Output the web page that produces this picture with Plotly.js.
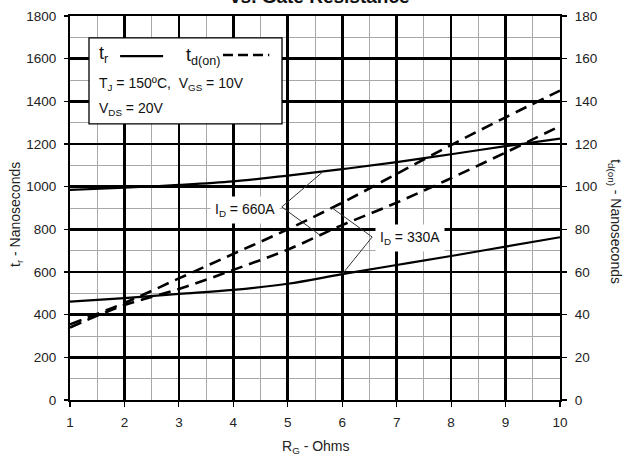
<!DOCTYPE html>
<html>
<head>
<meta charset="utf-8">
<script src="https://cdn.plot.ly/plotly-3.0.1.min.js"></script>
<style>html,body{margin:0;padding:0;background:#fff}#chart{width:624px;height:459px}</style>
</head>
<body>
<div id="chart"></div>
<script>
// Gate resistance (Ohms)
const rg = [1, 2, 3, 4, 5, 6, 7, 8, 9, 10];
// Rise time t_r (ns), left axis
const tr660 = [985, 995, 1008, 1025, 1052, 1082, 1115, 1152, 1190, 1225];
const tr330 = [461, 478, 497, 516, 545, 590, 633, 675, 719, 763];
// Turn-on delay t_d(on) (ns), right axis
const tdon660 = [34, 44.5, 52, 61, 70.5, 82, 92.5, 104, 116, 128.4];
const tdon330 = [35.5, 45.5, 57, 68.5, 80, 92.5, 106, 119.5, 132.5, 145];

const FONT = 'Liberation Sans, Arial, sans-serif';
const solid = {color: '#000', width: 2.2, shape: 'spline'};
const dashed = {color: '#000', width: 2.6, dash: '12px,7px', shape: 'spline'};

const traces = [
  {x: rg, y: tr660, type: 'scatter', mode: 'lines', line: solid, yaxis: 'y', hoverinfo: 'skip'},
  {x: rg, y: tr330, type: 'scatter', mode: 'lines', line: solid, yaxis: 'y', hoverinfo: 'skip'},
  {x: rg, y: tdon660, type: 'scatter', mode: 'lines', line: dashed, yaxis: 'y2', hoverinfo: 'skip'},
  {x: rg, y: tdon330, type: 'scatter', mode: 'lines', line: dashed, yaxis: 'y2', hoverinfo: 'skip'}
];

const tickFont = {family: FONT, size: 13.5, color: '#222'};
const txt = (text, x, y, size, extra) => Object.assign({
  text: text, x: x, y: y, xref: 'x', yref: 'y', showarrow: false,
  xanchor: 'left', yanchor: 'middle', font: {family: FONT, size: size, color: '#111'}
}, extra || {});

const layout = {
  width: 624, height: 459,
  margin: {l: 70, r: 64, t: 16, b: 59, pad: 0},
  paper_bgcolor: '#fff', plot_bgcolor: '#fff',
  showlegend: false,
  xaxis: {
    range: [1, 10], dtick: 1, tick0: 1, showgrid: true, gridcolor: '#000', gridwidth: 2.6,
    minor: {dtick: 0.5, showgrid: true, gridcolor: '#a8a8a8', gridwidth: 1},
    zeroline: false, showline: true, linecolor: '#000', linewidth: 2, mirror: true,
    ticks: 'outside', ticklen: 5, tickwidth: 1.2, tickcolor: '#000',
    tickfont: tickFont, ticklabelstandoff: 4
  },
  yaxis: {
    range: [0, 1800], dtick: 200, showgrid: true, gridcolor: '#000', gridwidth: 2.4,
    minor: {dtick: 100, showgrid: true, gridcolor: '#a8a8a8', gridwidth: 1},
    zeroline: false, showline: true, linecolor: '#000', linewidth: 2, mirror: true,
    ticks: 'outside', ticklen: 4, tickwidth: 1.2, tickcolor: '#000',
    tickfont: tickFont, ticklabelstandoff: 5
  },
  yaxis2: {
    range: [0, 180], dtick: 20, overlaying: 'y', side: 'right', showgrid: false,
    zeroline: false, showline: true, linecolor: '#000', linewidth: 2,
    ticks: 'outside', ticklen: 5, tickwidth: 1.2, tickcolor: '#000',
    tickfont: tickFont, ticklabelstandoff: 5
  },
  shapes: [
    // legend box
    {type: 'rect', xref: 'x', yref: 'y', x0: 1.349, x1: 4.894, y0: 1294, y1: 1697,
     fillcolor: '#fff', line: {color: '#000', width: 1.3}, layer: 'above'},
    {type: 'line', xref: 'x', yref: 'y', x0: 1.92, x1: 2.71, y0: 1612, y1: 1612,
     line: {color: '#000', width: 2.4}, layer: 'above'},
    {type: 'line', xref: 'x', yref: 'y', x0: 3.81, x1: 4.66, y0: 1617, y1: 1617,
     line: {color: '#000', width: 2.6, dash: '10px,5px'}, layer: 'above'},
    // leader lines I_D = 660A
    {type: 'line', xref: 'x', yref: 'y', x0: 4.89, y0: 905, x1: 5.65, y1: 1071, line: {color: '#333', width: 1}, layer: 'above'},
    {type: 'line', xref: 'x', yref: 'y', x0: 4.89, y0: 905, x1: 5.59, y1: 773, line: {color: '#333', width: 1}, layer: 'above'},
    // leader lines I_D = 330A
    {type: 'line', xref: 'x', yref: 'y', x0: 6.55, y0: 764, x1: 5.81, y1: 901, line: {color: '#333', width: 1}, layer: 'above'},
    {type: 'line', xref: 'x', yref: 'y', x0: 6.55, y0: 764, x1: 6.0, y1: 590, line: {color: '#333', width: 1}, layer: 'above'}
  ],
  annotations: [
    {text: '<b>vs. Gate Resistance</b>', xref: 'paper', yref: 'paper', x: 0.51, y: 1.018,
     xanchor: 'center', yanchor: 'bottom', showarrow: false, font: {family: FONT, size: 19, color: '#111'}},
    {text: 't<sub>r</sub> - Nanoseconds', xref: 'paper', yref: 'paper', x: -0.110, y: 0.482,
     xanchor: 'center', yanchor: 'middle', textangle: -90, showarrow: false, font: {family: FONT, size: 14, color: '#222'}},
    {text: 't<sub>d(on)</sub> - Nanoseconds', xref: 'paper', yref: 'paper', x: 1.112, y: 0.4635,
     xanchor: 'center', yanchor: 'middle', textangle: 90, showarrow: false, font: {family: FONT, size: 14, color: '#222'}},
    {text: 'R<sub>G</sub> - Ohms', xref: 'paper', yref: 'paper', x: 0.503, y: -0.122,
     xanchor: 'center', yanchor: 'middle', showarrow: false, font: {family: FONT, size: 14, color: '#222'}},
    // legend texts
    txt('t<sub>r</sub>', 1.5, 1620, 18),
    txt('t<sub>d(on)</sub>', 3.09, 1612, 18),
    txt('T<sub>J</sub> = 150ºC,  V<sub>GS</sub> = 10V', 1.49, 1480, 14),
    txt('V<sub>DS</sub> = 20V', 1.49, 1362, 14),
    // current labels
    txt('I<sub>D</sub> = 660A', 4.215, 891, 14, {xanchor: 'center', bgcolor: '#fff', borderpad: 4}),
    txt('I<sub>D</sub> = 330A', 7.245, 759, 14, {xanchor: 'center', bgcolor: '#fff', borderpad: 4})
  ]
};

Plotly.newPlot('chart', traces, layout, {staticPlot: true, displayModeBar: false});
</script>
</body>
</html>
